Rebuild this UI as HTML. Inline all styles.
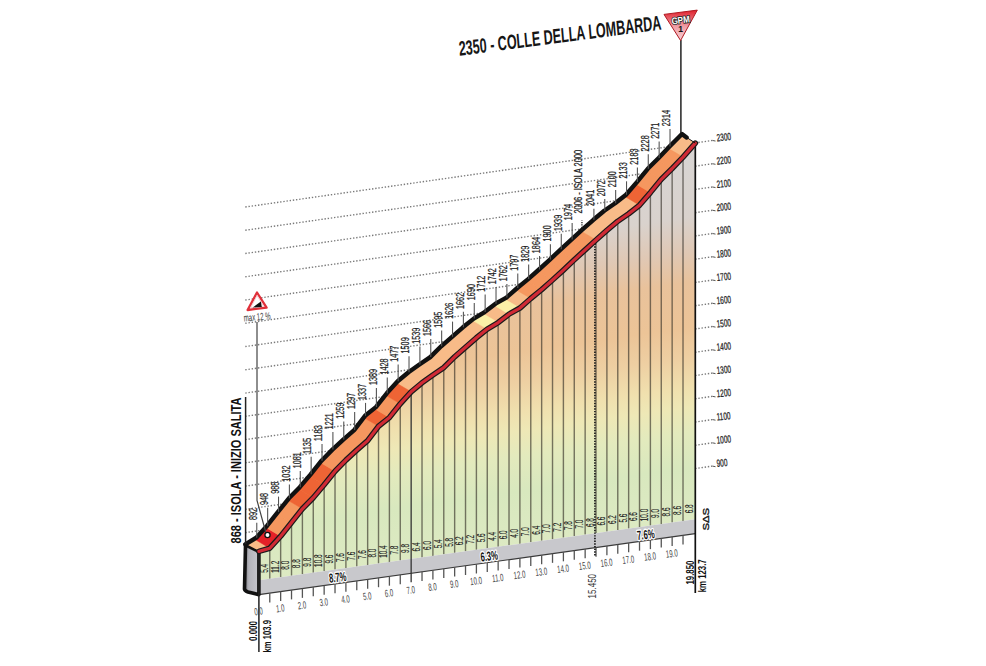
<!DOCTYPE html>
<html><head><meta charset="utf-8"><title>Colle della Lombarda</title>
<style>html,body{margin:0;padding:0;background:#fff;overflow:hidden;}svg{display:block;}</style>
</head><body>
<svg width="986" height="666" viewBox="0 0 986 666">
<defs>
<linearGradient id="fillg" gradientUnits="userSpaceOnUse" x1="0" y1="224" x2="0" y2="674" gradientTransform="skewY(-7.97)">
<stop offset="0" stop-color="#D8D6D5"/>
<stop offset="0.2" stop-color="#D9D2CD"/>
<stop offset="0.278" stop-color="#E0C8B4"/>
<stop offset="0.344" stop-color="#E9C29B"/>
<stop offset="0.444" stop-color="#ECC497"/>
<stop offset="0.511" stop-color="#EECFA2"/>
<stop offset="0.578" stop-color="#F0E0AE"/>
<stop offset="0.622" stop-color="#EEE8B6"/>
<stop offset="0.678" stop-color="#E3EABD"/>
<stop offset="0.756" stop-color="#D8E8BE"/>
<stop offset="0.88" stop-color="#DDEAC3"/>
<stop offset="1" stop-color="#E6EFCD"/>
</linearGradient>
<linearGradient id="sideg" x1="0" y1="0" x2="1" y2="0">
<stop offset="0" stop-color="#77777d"/>
<stop offset="0.3" stop-color="#B3B3BA"/>
<stop offset="1" stop-color="#C6C6CC"/>
</linearGradient>
<linearGradient id="gpmg" x1="0" y1="0" x2="0" y2="1">
<stop offset="0" stop-color="#E0202C"/>
<stop offset="0.55" stop-color="#F0A0A8"/>
<stop offset="1" stop-color="#F7D0D4"/>
</linearGradient>
</defs>
<rect width="986" height="666" fill="#fff"/>
<g stroke="#7a7a7a" stroke-width="1.4" stroke-dasharray="1.4 1.8" fill="none"><line x1="245.3" y1="532.63" x2="712.5" y2="466.1"/><line x1="245.3" y1="509.37" x2="712.5" y2="442.84"/><line x1="245.3" y1="486.11" x2="712.5" y2="419.58"/><line x1="245.3" y1="462.85" x2="712.5" y2="396.32"/><line x1="245.3" y1="439.59" x2="712.5" y2="373.06"/><line x1="245.3" y1="416.33" x2="712.5" y2="349.8"/><line x1="245.3" y1="393.07" x2="712.5" y2="326.54"/><line x1="245.3" y1="369.81" x2="712.5" y2="303.28"/><line x1="245.3" y1="346.55" x2="712.5" y2="280.02"/><line x1="245.3" y1="323.29" x2="712.5" y2="256.76"/><line x1="245.3" y1="300.03" x2="712.5" y2="233.5"/><line x1="245.3" y1="276.77" x2="712.5" y2="210.24"/><line x1="245.3" y1="253.51" x2="712.5" y2="186.98"/><line x1="245.3" y1="230.25" x2="712.5" y2="163.72"/><line x1="245.3" y1="206.99" x2="712.5" y2="140.46"/></g>
<g stroke="#555" stroke-width="1" fill="none"><path d="M712.5,466.1 l3,0.6" /><path d="M712.5,442.84 l3,0.6" /><path d="M712.5,419.58 l3,0.6" /><path d="M712.5,396.32 l3,0.6" /><path d="M712.5,373.06 l3,0.6" /><path d="M712.5,349.8 l3,0.6" /><path d="M712.5,326.54 l3,0.6" /><path d="M712.5,303.28 l3,0.6" /><path d="M712.5,280.02 l3,0.6" /><path d="M712.5,256.76 l3,0.6" /><path d="M712.5,233.5 l3,0.6" /><path d="M712.5,210.24 l3,0.6" /><path d="M712.5,186.98 l3,0.6" /><path d="M712.5,163.72 l3,0.6" /><path d="M712.5,140.46 l3,0.6" /></g>
<g font-family="Liberation Sans, sans-serif" font-size="10.5" fill="#222" stroke="#222" stroke-width="0.25"><text transform="translate(717,467.1) rotate(-6) scale(0.62,1)">900</text><text transform="translate(717,443.84) rotate(-6) scale(0.62,1)">1000</text><text transform="translate(717,420.58) rotate(-6) scale(0.62,1)">1100</text><text transform="translate(717,397.32) rotate(-6) scale(0.62,1)">1200</text><text transform="translate(717,374.06) rotate(-6) scale(0.62,1)">1300</text><text transform="translate(717,350.8) rotate(-6) scale(0.62,1)">1400</text><text transform="translate(717,327.54) rotate(-6) scale(0.62,1)">1500</text><text transform="translate(717,304.28) rotate(-6) scale(0.62,1)">1600</text><text transform="translate(717,281.02) rotate(-6) scale(0.62,1)">1700</text><text transform="translate(717,257.76) rotate(-6) scale(0.62,1)">1800</text><text transform="translate(717,234.5) rotate(-6) scale(0.62,1)">1900</text><text transform="translate(717,211.24) rotate(-6) scale(0.62,1)">2000</text><text transform="translate(717,187.98) rotate(-6) scale(0.62,1)">2100</text><text transform="translate(717,164.72) rotate(-6) scale(0.62,1)">2200</text><text transform="translate(717,141.46) rotate(-6) scale(0.62,1)">2300</text></g>
<polygon points="258.9,580.25 258.9,554 269.77,550.9 280.65,538.9 291.52,525.1 302.4,511.5 313.27,500.4 324.15,487.5 335.02,473.9 345.9,462.8 356.77,452.8 367.65,443.3 378.52,429 389.4,420.3 400.27,406.5 411.15,394.5 422.02,385.5 432.9,377.7 443.77,370.3 454.65,359.5 465.52,350 476.4,340.5 487.27,331.8 498.15,325.26 509.02,316.84 519.9,310.77 530.77,301.18 541.65,292.29 552.52,282.7 563.4,272.8 574.27,262.5 585.15,252.6 596.02,242.68 606.9,233 617.77,223.9 628.65,216.5 639.52,207.9 650.4,195.3 661.27,182 672.15,171.2 683.02,159.8 695.3,145.8 695.3,519.16" fill="url(#fillg)"/>
<g stroke="#2e2a22" stroke-opacity="0.62" stroke-width="1.4"><line x1="269.77" y1="578.73" x2="269.77" y2="550.9"/><line x1="280.65" y1="577.21" x2="280.65" y2="538.9"/><line x1="291.52" y1="575.69" x2="291.52" y2="525.1"/><line x1="302.4" y1="574.16" x2="302.4" y2="511.5"/><line x1="313.27" y1="572.64" x2="313.27" y2="500.4"/><line x1="324.15" y1="571.12" x2="324.15" y2="487.5"/><line x1="335.02" y1="569.6" x2="335.02" y2="473.9"/><line x1="345.9" y1="568.07" x2="345.9" y2="462.8"/><line x1="356.77" y1="566.55" x2="356.77" y2="452.8"/><line x1="367.65" y1="565.03" x2="367.65" y2="443.3"/><line x1="378.52" y1="563.51" x2="378.52" y2="429"/><line x1="389.4" y1="561.98" x2="389.4" y2="420.3"/><line x1="400.27" y1="560.46" x2="400.27" y2="406.5"/><line x1="422.02" y1="557.42" x2="422.02" y2="385.5"/><line x1="432.9" y1="555.89" x2="432.9" y2="377.7"/><line x1="443.77" y1="554.37" x2="443.77" y2="370.3"/><line x1="454.65" y1="552.85" x2="454.65" y2="359.5"/><line x1="465.52" y1="551.33" x2="465.52" y2="350"/><line x1="476.4" y1="549.8" x2="476.4" y2="340.5"/><line x1="487.27" y1="548.28" x2="487.27" y2="331.8"/><line x1="498.15" y1="546.76" x2="498.15" y2="325.26"/><line x1="509.02" y1="545.24" x2="509.02" y2="316.84"/><line x1="519.9" y1="543.71" x2="519.9" y2="310.77"/><line x1="530.77" y1="542.19" x2="530.77" y2="301.18"/><line x1="541.65" y1="540.67" x2="541.65" y2="292.29"/><line x1="552.52" y1="539.15" x2="552.52" y2="282.7"/><line x1="563.4" y1="537.62" x2="563.4" y2="272.8"/><line x1="574.27" y1="536.1" x2="574.27" y2="262.5"/><line x1="585.15" y1="534.58" x2="585.15" y2="252.6"/><line x1="596.02" y1="533.06" x2="596.02" y2="242.68"/><line x1="606.9" y1="531.53" x2="606.9" y2="233"/><line x1="617.77" y1="530.01" x2="617.77" y2="223.9"/><line x1="628.65" y1="528.49" x2="628.65" y2="216.5"/><line x1="639.52" y1="526.97" x2="639.52" y2="207.9"/><line x1="650.4" y1="525.44" x2="650.4" y2="195.3"/><line x1="661.27" y1="523.92" x2="661.27" y2="182"/><line x1="672.15" y1="522.4" x2="672.15" y2="171.2"/><line x1="683.02" y1="520.88" x2="683.02" y2="159.8"/></g>
<polygon points="258.9,580.25 695.3,519.16 695.3,533.56 258.9,594.65" fill="#C8C8CC"/>
<line x1="258.9" y1="594.65" x2="695.3" y2="533.56" stroke="#3a3a3a" stroke-width="1.2"/>
<g stroke="#555" stroke-width="1.3"><line x1="269.77" y1="593.13" x2="269.77" y2="602.43"/><line x1="280.65" y1="591.61" x2="280.65" y2="600.91"/><line x1="291.52" y1="590.09" x2="291.52" y2="599.39"/><line x1="302.4" y1="588.56" x2="302.4" y2="597.86"/><line x1="313.27" y1="587.04" x2="313.27" y2="596.34"/><line x1="324.15" y1="585.52" x2="324.15" y2="594.82"/><line x1="335.02" y1="584" x2="335.02" y2="593.3"/><line x1="345.9" y1="582.47" x2="345.9" y2="591.77"/><line x1="356.77" y1="580.95" x2="356.77" y2="590.25"/><line x1="367.65" y1="579.43" x2="367.65" y2="588.73"/><line x1="378.52" y1="577.91" x2="378.52" y2="587.21"/><line x1="389.4" y1="576.38" x2="389.4" y2="585.68"/><line x1="400.27" y1="574.86" x2="400.27" y2="584.16"/><line x1="422.02" y1="571.82" x2="422.02" y2="581.12"/><line x1="432.9" y1="570.29" x2="432.9" y2="579.59"/><line x1="443.77" y1="568.77" x2="443.77" y2="578.07"/><line x1="454.65" y1="567.25" x2="454.65" y2="576.55"/><line x1="465.52" y1="565.73" x2="465.52" y2="575.03"/><line x1="476.4" y1="564.2" x2="476.4" y2="573.5"/><line x1="487.27" y1="562.68" x2="487.27" y2="571.98"/><line x1="498.15" y1="561.16" x2="498.15" y2="570.46"/><line x1="509.02" y1="559.64" x2="509.02" y2="568.94"/><line x1="519.9" y1="558.11" x2="519.9" y2="567.41"/><line x1="530.77" y1="556.59" x2="530.77" y2="565.89"/><line x1="541.65" y1="555.07" x2="541.65" y2="564.37"/><line x1="552.52" y1="553.55" x2="552.52" y2="562.85"/><line x1="563.4" y1="552.02" x2="563.4" y2="561.32"/><line x1="574.27" y1="550.5" x2="574.27" y2="559.8"/><line x1="585.15" y1="548.98" x2="585.15" y2="558.28"/><line x1="596.02" y1="547.46" x2="596.02" y2="556.76"/><line x1="606.9" y1="545.93" x2="606.9" y2="555.23"/><line x1="617.77" y1="544.41" x2="617.77" y2="553.71"/><line x1="628.65" y1="542.89" x2="628.65" y2="552.19"/><line x1="639.52" y1="541.37" x2="639.52" y2="550.67"/><line x1="650.4" y1="539.84" x2="650.4" y2="549.14"/><line x1="661.27" y1="538.32" x2="661.27" y2="547.62"/><line x1="672.15" y1="536.8" x2="672.15" y2="546.1"/><line x1="683.02" y1="535.28" x2="683.02" y2="544.58"/></g>
<line x1="411.15" y1="394.5" x2="411.15" y2="582.34" stroke="#333" stroke-width="1.3"/>
<line x1="594.94" y1="243.57" x2="594.94" y2="556.61" stroke="#1a1a1a" stroke-width="1.7" stroke-dasharray="1.4 1.3"/>
<path d="M258.9,551.5 L245.5,545 L244.5,589 Q245,591 248,592 L258.9,594.65 Z" fill="url(#sideg)" stroke="#111" stroke-width="3.6" stroke-linejoin="round"/>
<line x1="258.9" y1="551" x2="258.9" y2="652" stroke="#222" stroke-width="1.5"/>
<line x1="695.3" y1="143" x2="695.3" y2="593" stroke="#111" stroke-width="1.7"/>
<clipPath id="roadclip"><polygon points="258.9,551.4 269.77,548.2 280.65,536.2 291.52,522.4 302.4,508.8 313.27,497.7 324.15,484.8 335.02,471.2 345.9,460.1 356.77,450.1 367.65,440.6 378.52,426.3 389.4,417.6 400.27,403.8 411.15,391.8 422.02,382.8 432.9,375 443.77,367.6 454.65,356.8 465.52,347.3 476.4,337.8 487.27,329.1 498.15,322.56 509.02,314.14 519.9,308.07 530.77,298.48 541.65,289.59 552.52,280 563.4,270.1 574.27,259.8 585.15,249.9 596.02,239.98 606.9,230.3 617.77,221.2 628.65,213.8 639.52,205.2 650.4,192.6 661.27,179.3 672.15,168.5 683.02,157.1 695.3,143.1 686.6,137.4 682,134 669.52,146.6 658.65,158 647.77,168.8 636.9,182.1 626.02,194.7 615.15,203.3 604.27,210.7 593.4,219.8 582.52,229.48 571.65,239.4 560.77,249.3 549.9,259.6 539.02,269.5 528.15,279.09 517.27,287.98 506.4,297.57 495.52,303.64 484.65,312.06 473.77,318.6 462.9,327.3 452.02,336.8 441.15,346.3 430.27,357.1 419.4,364.5 408.52,372.3 397.65,381.3 386.77,393.3 375.9,407.1 365.02,415.8 354.15,430.1 343.27,439.6 332.4,449.6 321.52,460.7 310.65,474.3 299.77,487.2 288.9,498.3 278.02,511.9 267.15,525.7 256.27,537.7 245.3,544.3"/></clipPath>
<g clip-path="url(#roadclip)"><polygon points="258.9,551.4 269.77,548.2 280.65,536.2 291.52,522.4 302.4,508.8 313.27,497.7 324.15,484.8 335.02,471.2 345.9,460.1 356.77,450.1 367.65,440.6 378.52,426.3 389.4,417.6 400.27,403.8 411.15,391.8 422.02,382.8 432.9,375 443.77,367.6 454.65,356.8 465.52,347.3 476.4,337.8 487.27,329.1 498.15,322.56 509.02,314.14 519.9,308.07 530.77,298.48 541.65,289.59 552.52,280 563.4,270.1 574.27,259.8 585.15,249.9 596.02,239.98 606.9,230.3 617.77,221.2 628.65,213.8 639.52,205.2 650.4,192.6 661.27,179.3 672.15,168.5 683.02,157.1 695.3,143.1 686.6,137.4 682,134 669.52,146.6 658.65,158 647.77,168.8 636.9,182.1 626.02,194.7 615.15,203.3 604.27,210.7 593.4,219.8 582.52,229.48 571.65,239.4 560.77,249.3 549.9,259.6 539.02,269.5 528.15,279.09 517.27,287.98 506.4,297.57 495.52,303.64 484.65,312.06 473.77,318.6 462.9,327.3 452.02,336.8 441.15,346.3 430.27,357.1 419.4,364.5 408.52,372.3 397.65,381.3 386.77,393.3 375.9,407.1 365.02,415.8 354.15,430.1 343.27,439.6 332.4,449.6 321.52,460.7 310.65,474.3 299.77,487.2 288.9,498.3 278.02,511.9 267.15,525.7 256.27,537.7 245.3,544.3" fill="#F8BB88"/><polygon points="269.77,548.2 280.65,536.2 250.95,518.6 240.07,530.6" fill="#E42128" stroke="#E42128" stroke-width="0.5"/><polygon points="280.65,536.2 291.52,522.4 261.82,504.8 250.95,518.6" fill="#F5975F" stroke="#F5975F" stroke-width="0.5"/><polygon points="291.52,522.4 302.4,508.8 272.7,491.2 261.82,504.8" fill="#F5975F" stroke="#F5975F" stroke-width="0.5"/><polygon points="302.4,508.8 313.27,497.7 283.57,480.1 272.7,491.2" fill="#EE6435" stroke="#EE6435" stroke-width="0.5"/><polygon points="313.27,497.7 324.15,484.8 294.45,467.2 283.57,480.1" fill="#EE6435" stroke="#EE6435" stroke-width="0.5"/><polygon points="324.15,484.8 335.02,471.2 305.32,453.6 294.45,467.2" fill="#EE6435" stroke="#EE6435" stroke-width="0.5"/><polygon points="335.02,471.2 345.9,460.1 316.2,442.5 305.32,453.6" fill="#F5975F" stroke="#F5975F" stroke-width="0.5"/><polygon points="345.9,460.1 356.77,450.1 327.07,432.5 316.2,442.5" fill="#F5975F" stroke="#F5975F" stroke-width="0.5"/><polygon points="356.77,450.1 367.65,440.6 337.95,423 327.07,432.5" fill="#F5975F" stroke="#F5975F" stroke-width="0.5"/><polygon points="367.65,440.6 378.52,426.3 348.82,408.7 337.95,423" fill="#F5975F" stroke="#F5975F" stroke-width="0.5"/><polygon points="378.52,426.3 389.4,417.6 359.7,400 348.82,408.7" fill="#EE6435" stroke="#EE6435" stroke-width="0.5"/><polygon points="389.4,417.6 400.27,403.8 370.57,386.2 359.7,400" fill="#F5975F" stroke="#F5975F" stroke-width="0.5"/><polygon points="400.27,403.8 411.15,391.8 381.45,374.2 370.57,386.2" fill="#EE6435" stroke="#EE6435" stroke-width="0.5"/><polygon points="487.27,329.1 498.15,322.56 468.45,304.96 457.57,311.5" fill="#FBF0A8" stroke="#FBF0A8" stroke-width="0.5"/><polygon points="509.02,314.14 519.9,308.07 490.2,290.47 479.32,296.54" fill="#FBF0A8" stroke="#FBF0A8" stroke-width="0.5"/><polygon points="530.77,298.48 541.65,289.59 511.95,271.99 501.07,280.88" fill="#F5975F" stroke="#F5975F" stroke-width="0.5"/><polygon points="541.65,289.59 552.52,280 522.82,262.4 511.95,271.99" fill="#F5975F" stroke="#F5975F" stroke-width="0.5"/><polygon points="552.52,280 563.4,270.1 533.7,252.5 522.82,262.4" fill="#F5975F" stroke="#F5975F" stroke-width="0.5"/><polygon points="563.4,270.1 574.27,259.8 544.57,242.2 533.7,252.5" fill="#F5975F" stroke="#F5975F" stroke-width="0.5"/><polygon points="574.27,259.8 585.15,249.9 555.45,232.3 544.57,242.2" fill="#F5975F" stroke="#F5975F" stroke-width="0.5"/><polygon points="585.15,249.9 596.02,239.98 566.32,222.38 555.45,232.3" fill="#F5975F" stroke="#F5975F" stroke-width="0.5"/><polygon points="639.52,205.2 650.4,192.6 620.7,175 609.82,187.6" fill="#EE6435" stroke="#EE6435" stroke-width="0.5"/><polygon points="650.4,192.6 661.27,179.3 631.57,161.7 620.7,175" fill="#F5975F" stroke="#F5975F" stroke-width="0.5"/><polygon points="661.27,179.3 672.15,168.5 642.45,150.9 631.57,161.7" fill="#F5975F" stroke="#F5975F" stroke-width="0.5"/><polygon points="672.15,168.5 683.02,157.1 653.32,139.5 642.45,150.9" fill="#F5975F" stroke="#F5975F" stroke-width="0.5"/></g>
<polyline points="245.3,544.3 258.9,551.4" stroke="#111" stroke-width="1.2" fill="none"/>
<polyline points="245.3,544.3 256.27,537.7 267.15,525.7 278.02,511.9 288.9,498.3 299.77,487.2 310.65,474.3 321.52,460.7 332.4,449.6 343.27,439.6 354.15,430.1 365.02,415.8 375.9,407.1 386.77,393.3 397.65,381.3 408.52,372.3 419.4,364.5 430.27,357.1 441.15,346.3 452.02,336.8 462.9,327.3 473.77,318.6 484.65,312.06 495.52,303.64 506.4,297.57 517.27,287.98 528.15,279.09 539.02,269.5 549.9,259.6 560.77,249.3 571.65,239.4 582.52,229.48 593.4,219.8 604.27,210.7 615.15,203.3 626.02,194.7 636.9,182.1 647.77,168.8 658.65,158 669.52,146.6 682,134 686.6,137.4" fill="none" stroke="#111" stroke-width="4.4" stroke-linejoin="round" stroke-linecap="round"/>
<polyline points="258.9,551.4 269.77,548.2 280.65,536.2 291.52,522.4 302.4,508.8 313.27,497.7 324.15,484.8 335.02,471.2 345.9,460.1 356.77,450.1 367.65,440.6 378.52,426.3 389.4,417.6 400.27,403.8 411.15,391.8 422.02,382.8 432.9,375 443.77,367.6 454.65,356.8 465.52,347.3 476.4,337.8 487.27,329.1 498.15,322.56 509.02,314.14 519.9,308.07 530.77,298.48 541.65,289.59 552.52,280 563.4,270.1 574.27,259.8 585.15,249.9 596.02,239.98 606.9,230.3 617.77,221.2 628.65,213.8 639.52,205.2 650.4,192.6 661.27,179.3 672.15,168.5 683.02,157.1 695.3,143.1" fill="none" stroke="#1a1a1a" stroke-width="5.6" stroke-linejoin="round" stroke-linecap="round"/>
<polyline points="258.9,551.4 269.77,548.2 280.65,536.2 291.52,522.4 302.4,508.8 313.27,497.7 324.15,484.8 335.02,471.2 345.9,460.1 356.77,450.1 367.65,440.6 378.52,426.3 389.4,417.6 400.27,403.8 411.15,391.8 422.02,382.8 432.9,375 443.77,367.6 454.65,356.8 465.52,347.3 476.4,337.8 487.27,329.1 498.15,322.56 509.02,314.14 519.9,308.07 530.77,298.48 541.65,289.59 552.52,280 563.4,270.1 574.27,259.8 585.15,249.9 596.02,239.98 606.9,230.3 617.77,221.2 628.65,213.8 639.52,205.2 650.4,192.6 661.27,179.3 672.15,168.5 683.02,157.1 695.3,143.1" fill="none" stroke="#D02A35" stroke-width="3.2" stroke-linejoin="round" stroke-linecap="round"/>
<polyline points="686.6,137.4 695.3,143.1" stroke="#111" stroke-width="1.0" fill="none"/>
<g stroke="#555" stroke-width="1.1"><line x1="256.77" y1="537.7" x2="256.77" y2="522.8"/><line x1="267.65" y1="525.7" x2="267.65" y2="507.8"/><line x1="278.52" y1="511.9" x2="278.52" y2="496.6"/><line x1="289.4" y1="498.3" x2="289.4" y2="484.5"/><line x1="300.27" y1="487.2" x2="300.27" y2="471.1"/><line x1="311.15" y1="474.3" x2="311.15" y2="456.8"/><line x1="322.02" y1="460.7" x2="322.02" y2="444.1"/><line x1="332.9" y1="449.6" x2="332.9" y2="432.1"/><line x1="343.77" y1="439.6" x2="343.77" y2="421.6"/><line x1="354.65" y1="430.1" x2="354.65" y2="411.9"/><line x1="365.52" y1="415.8" x2="365.52" y2="402.9"/><line x1="376.4" y1="407.1" x2="376.4" y2="387.9"/><line x1="387.27" y1="393.3" x2="387.27" y2="377.4"/><line x1="398.15" y1="381.3" x2="398.15" y2="364.6"/><line x1="409.02" y1="372.3" x2="409.02" y2="356.3"/><line x1="419.9" y1="364.5" x2="419.9" y2="346.6"/><line x1="430.77" y1="357.1" x2="430.77" y2="338.9"/><line x1="441.65" y1="346.3" x2="441.65" y2="330.6"/><line x1="452.52" y1="336.8" x2="452.52" y2="321.6"/><line x1="463.4" y1="327.3" x2="463.4" y2="311.8"/><line x1="474.27" y1="318.6" x2="474.27" y2="303"/><line x1="485.15" y1="312.06" x2="485.15" y2="294.6"/><line x1="496.02" y1="303.64" x2="496.02" y2="287.1"/><line x1="506.9" y1="297.57" x2="506.9" y2="284.1"/><line x1="517.77" y1="287.98" x2="517.77" y2="273.6"/><line x1="528.65" y1="279.09" x2="528.65" y2="264.6"/><line x1="539.52" y1="269.5" x2="539.52" y2="256"/><line x1="550.4" y1="259.6" x2="550.4" y2="244.3"/><line x1="561.27" y1="249.3" x2="561.27" y2="233.8"/><line x1="572.15" y1="239.4" x2="572.15" y2="223"/><line x1="593.9" y1="219.8" x2="593.9" y2="208.8"/><line x1="604.77" y1="210.7" x2="604.77" y2="199.1"/><line x1="615.65" y1="203.3" x2="615.65" y2="190.1"/><line x1="626.52" y1="194.7" x2="626.52" y2="181.3"/><line x1="637.4" y1="182.1" x2="637.4" y2="167.5"/><line x1="648.27" y1="168.8" x2="648.27" y2="154.3"/><line x1="659.15" y1="158" x2="659.15" y2="141.6"/><line x1="670.02" y1="146.6" x2="670.02" y2="129"/></g>
<line x1="581.94" y1="230.37" x2="581.94" y2="220.37" stroke="#222" stroke-width="1.3" stroke-dasharray="1.2 1.2"/>
<g font-family="Liberation Sans, sans-serif" font-size="11.5" fill="#222" stroke="#222" stroke-width="0.25"><text transform="translate(257.07,520) rotate(-90)" textLength="12.1" lengthAdjust="spacingAndGlyphs">892</text><text transform="translate(267.95,505) rotate(-90)" textLength="12.1" lengthAdjust="spacingAndGlyphs">948</text><text transform="translate(278.82,493.8) rotate(-90)" textLength="12.1" lengthAdjust="spacingAndGlyphs">988</text><text transform="translate(289.7,481.7) rotate(-90)" textLength="16.2" lengthAdjust="spacingAndGlyphs">1032</text><text transform="translate(300.57,468.3) rotate(-90)" textLength="16.2" lengthAdjust="spacingAndGlyphs">1081</text><text transform="translate(311.45,454) rotate(-90)" textLength="16.2" lengthAdjust="spacingAndGlyphs">1135</text><text transform="translate(322.32,441.3) rotate(-90)" textLength="16.2" lengthAdjust="spacingAndGlyphs">1183</text><text transform="translate(333.2,429.3) rotate(-90)" textLength="16.2" lengthAdjust="spacingAndGlyphs">1221</text><text transform="translate(344.07,418.8) rotate(-90)" textLength="16.2" lengthAdjust="spacingAndGlyphs">1259</text><text transform="translate(354.95,409.1) rotate(-90)" textLength="16.2" lengthAdjust="spacingAndGlyphs">1297</text><text transform="translate(365.82,400.1) rotate(-90)" textLength="16.2" lengthAdjust="spacingAndGlyphs">1337</text><text transform="translate(376.7,385.1) rotate(-90)" textLength="16.2" lengthAdjust="spacingAndGlyphs">1389</text><text transform="translate(387.57,374.6) rotate(-90)" textLength="16.2" lengthAdjust="spacingAndGlyphs">1428</text><text transform="translate(398.45,361.8) rotate(-90)" textLength="16.2" lengthAdjust="spacingAndGlyphs">1477</text><text transform="translate(409.32,353.5) rotate(-90)" textLength="16.2" lengthAdjust="spacingAndGlyphs">1509</text><text transform="translate(420.2,343.8) rotate(-90)" textLength="16.2" lengthAdjust="spacingAndGlyphs">1539</text><text transform="translate(431.07,336.1) rotate(-90)" textLength="16.2" lengthAdjust="spacingAndGlyphs">1566</text><text transform="translate(441.95,327.8) rotate(-90)" textLength="16.2" lengthAdjust="spacingAndGlyphs">1595</text><text transform="translate(452.82,318.8) rotate(-90)" textLength="16.2" lengthAdjust="spacingAndGlyphs">1626</text><text transform="translate(463.7,309) rotate(-90)" textLength="16.2" lengthAdjust="spacingAndGlyphs">1662</text><text transform="translate(474.57,300.2) rotate(-90)" textLength="16.2" lengthAdjust="spacingAndGlyphs">1690</text><text transform="translate(485.45,291.8) rotate(-90)" textLength="16.2" lengthAdjust="spacingAndGlyphs">1712</text><text transform="translate(496.32,284.3) rotate(-90)" textLength="16.2" lengthAdjust="spacingAndGlyphs">1742</text><text transform="translate(507.2,281.3) rotate(-90)" textLength="16.2" lengthAdjust="spacingAndGlyphs">1762</text><text transform="translate(518.07,270.8) rotate(-90)" textLength="16.2" lengthAdjust="spacingAndGlyphs">1797</text><text transform="translate(528.95,261.8) rotate(-90)" textLength="16.2" lengthAdjust="spacingAndGlyphs">1829</text><text transform="translate(539.82,253.2) rotate(-90)" textLength="16.2" lengthAdjust="spacingAndGlyphs">1864</text><text transform="translate(550.7,241.5) rotate(-90)" textLength="16.2" lengthAdjust="spacingAndGlyphs">1900</text><text transform="translate(561.57,231) rotate(-90)" textLength="16.2" lengthAdjust="spacingAndGlyphs">1939</text><text transform="translate(572.45,220.2) rotate(-90)" textLength="16.2" lengthAdjust="spacingAndGlyphs">1974</text><text transform="translate(594.2,206) rotate(-90)" textLength="16.2" lengthAdjust="spacingAndGlyphs">2041</text><text transform="translate(605.07,196.3) rotate(-90)" textLength="16.2" lengthAdjust="spacingAndGlyphs">2072</text><text transform="translate(615.95,187.3) rotate(-90)" textLength="16.2" lengthAdjust="spacingAndGlyphs">2100</text><text transform="translate(626.82,178.5) rotate(-90)" textLength="16.2" lengthAdjust="spacingAndGlyphs">2133</text><text transform="translate(637.7,164.7) rotate(-90)" textLength="16.2" lengthAdjust="spacingAndGlyphs">2183</text><text transform="translate(648.57,151.5) rotate(-90)" textLength="16.2" lengthAdjust="spacingAndGlyphs">2228</text><text transform="translate(659.45,138.8) rotate(-90)" textLength="16.2" lengthAdjust="spacingAndGlyphs">2271</text><text transform="translate(670.32,126.2) rotate(-90)" textLength="16.2" lengthAdjust="spacingAndGlyphs">2314</text><text transform="translate(582.24,213.6) rotate(-90)" textLength="63.8" lengthAdjust="spacingAndGlyphs">2006 - ISOLA 2000</text></g>
<g font-family="Liberation Sans, sans-serif" font-size="10" fill="#222" stroke="#222" stroke-width="0.15" text-anchor="middle"><text transform="translate(267.74,568.29) rotate(-90) scale(0.64,1)">5.4</text><text transform="translate(278.61,566.77) rotate(-90) scale(0.64,1)">11.2</text><text transform="translate(289.49,565.25) rotate(-90) scale(0.64,1)">8.0</text><text transform="translate(300.36,563.73) rotate(-90) scale(0.64,1)">8.8</text><text transform="translate(311.24,562.2) rotate(-90) scale(0.64,1)">9.8</text><text transform="translate(322.11,560.68) rotate(-90) scale(0.64,1)">10.8</text><text transform="translate(332.99,559.16) rotate(-90) scale(0.64,1)">9.6</text><text transform="translate(343.86,557.64) rotate(-90) scale(0.64,1)">7.6</text><text transform="translate(354.74,556.11) rotate(-90) scale(0.64,1)">7.6</text><text transform="translate(365.61,554.59) rotate(-90) scale(0.64,1)">7.6</text><text transform="translate(376.49,553.07) rotate(-90) scale(0.64,1)">8.0</text><text transform="translate(387.36,551.55) rotate(-90) scale(0.64,1)">10.4</text><text transform="translate(398.24,550.02) rotate(-90) scale(0.64,1)">7.8</text><text transform="translate(409.11,548.5) rotate(-90) scale(0.64,1)">9.8</text><text transform="translate(419.99,546.98) rotate(-90) scale(0.64,1)">6.4</text><text transform="translate(430.86,545.46) rotate(-90) scale(0.64,1)">6.0</text><text transform="translate(441.74,543.93) rotate(-90) scale(0.64,1)">5.4</text><text transform="translate(452.61,542.41) rotate(-90) scale(0.64,1)">5.8</text><text transform="translate(463.49,540.89) rotate(-90) scale(0.64,1)">6.2</text><text transform="translate(474.36,539.37) rotate(-90) scale(0.64,1)">7.2</text><text transform="translate(485.24,537.84) rotate(-90) scale(0.64,1)">5.6</text><text transform="translate(496.11,536.32) rotate(-90) scale(0.64,1)">4.4</text><text transform="translate(506.99,534.8) rotate(-90) scale(0.64,1)">6.0</text><text transform="translate(517.86,533.28) rotate(-90) scale(0.64,1)">4.0</text><text transform="translate(528.74,531.75) rotate(-90) scale(0.64,1)">7.0</text><text transform="translate(539.61,530.23) rotate(-90) scale(0.64,1)">6.4</text><text transform="translate(550.49,528.71) rotate(-90) scale(0.64,1)">7.0</text><text transform="translate(561.36,527.19) rotate(-90) scale(0.64,1)">7.2</text><text transform="translate(572.24,525.66) rotate(-90) scale(0.64,1)">7.8</text><text transform="translate(583.11,524.14) rotate(-90) scale(0.64,1)">7.0</text><text transform="translate(593.99,522.62) rotate(-90) scale(0.64,1)">6.8</text><text transform="translate(604.86,521.1) rotate(-90) scale(0.64,1)">6.6</text><text transform="translate(615.74,519.57) rotate(-90) scale(0.64,1)">6.2</text><text transform="translate(626.61,518.05) rotate(-90) scale(0.64,1)">5.6</text><text transform="translate(637.49,516.53) rotate(-90) scale(0.64,1)">6.6</text><text transform="translate(648.36,515.01) rotate(-90) scale(0.64,1)">10.0</text><text transform="translate(659.24,513.48) rotate(-90) scale(0.64,1)">9.0</text><text transform="translate(670.11,511.96) rotate(-90) scale(0.64,1)">8.6</text><text transform="translate(680.99,510.44) rotate(-90) scale(0.64,1)">8.6</text><text transform="translate(692.56,508.82) rotate(-90) scale(0.64,1)">6.8</text></g>
<g font-family="Liberation Sans, sans-serif" font-size="10.5" fill="#444"><text transform="translate(258.9,614.95) rotate(-7) scale(0.58,1)" text-anchor="middle">0.0</text><text transform="translate(280.65,611.91) rotate(-7) scale(0.58,1)" text-anchor="middle">1.0</text><text transform="translate(302.4,608.86) rotate(-7) scale(0.58,1)" text-anchor="middle">2.0</text><text transform="translate(324.15,605.82) rotate(-7) scale(0.58,1)" text-anchor="middle">3.0</text><text transform="translate(345.9,602.77) rotate(-7) scale(0.58,1)" text-anchor="middle">4.0</text><text transform="translate(367.65,599.73) rotate(-7) scale(0.58,1)" text-anchor="middle">5.0</text><text transform="translate(389.4,596.68) rotate(-7) scale(0.58,1)" text-anchor="middle">6.0</text><text transform="translate(411.15,593.64) rotate(-7) scale(0.58,1)" text-anchor="middle">7.0</text><text transform="translate(432.9,590.59) rotate(-7) scale(0.58,1)" text-anchor="middle">8.0</text><text transform="translate(454.65,587.55) rotate(-7) scale(0.58,1)" text-anchor="middle">9.0</text><text transform="translate(476.4,584.5) rotate(-7) scale(0.58,1)" text-anchor="middle">10.0</text><text transform="translate(498.15,581.46) rotate(-7) scale(0.58,1)" text-anchor="middle">11.0</text><text transform="translate(519.9,578.41) rotate(-7) scale(0.58,1)" text-anchor="middle">12.0</text><text transform="translate(541.65,575.37) rotate(-7) scale(0.58,1)" text-anchor="middle">13.0</text><text transform="translate(563.4,572.32) rotate(-7) scale(0.58,1)" text-anchor="middle">14.0</text><text transform="translate(585.15,569.28) rotate(-7) scale(0.58,1)" text-anchor="middle">15.0</text><text transform="translate(606.9,566.23) rotate(-7) scale(0.58,1)" text-anchor="middle">16.0</text><text transform="translate(628.65,563.19) rotate(-7) scale(0.58,1)" text-anchor="middle">17.0</text><text transform="translate(650.4,560.14) rotate(-7) scale(0.58,1)" text-anchor="middle">18.0</text><text transform="translate(672.15,557.1) rotate(-7) scale(0.58,1)" text-anchor="middle">19.0</text></g>
<text transform="translate(338.2,581.8) rotate(-6)" textLength="17.5" lengthAdjust="spacingAndGlyphs" text-anchor="middle" font-family="Liberation Sans, sans-serif" font-weight="bold" font-size="13" fill="#111" stroke="#fff" stroke-width="2.8" paint-order="stroke" stroke-linejoin="round">8.7%</text>
<text transform="translate(489.7,560.5) rotate(-6)" textLength="17.5" lengthAdjust="spacingAndGlyphs" text-anchor="middle" font-family="Liberation Sans, sans-serif" font-weight="bold" font-size="13" fill="#111" stroke="#fff" stroke-width="2.8" paint-order="stroke" stroke-linejoin="round">6.3%</text>
<text transform="translate(646.3,539) rotate(-6)" textLength="17.5" lengthAdjust="spacingAndGlyphs" text-anchor="middle" font-family="Liberation Sans, sans-serif" font-weight="bold" font-size="13" fill="#111" stroke="#fff" stroke-width="2.8" paint-order="stroke" stroke-linejoin="round">7.6%</text>
<text transform="translate(256.8,641) rotate(-90)" textLength="20" lengthAdjust="spacingAndGlyphs" font-family="Liberation Sans, sans-serif" font-size="10.4" font-weight="bold" fill="#111">0.000</text>
<text transform="translate(270.6,652.5) rotate(-90)" textLength="32.5" lengthAdjust="spacingAndGlyphs" font-family="Liberation Sans, sans-serif" font-size="11" font-weight="bold" fill="#111">km 103.9</text>
<text transform="translate(693.6,584.6) rotate(-90)" textLength="24" lengthAdjust="spacingAndGlyphs" font-family="Liberation Sans, sans-serif" font-size="10.4" font-weight="bold" fill="#111">19.850</text>
<text transform="translate(706.2,592.3) rotate(-90)" textLength="33" lengthAdjust="spacingAndGlyphs" font-family="Liberation Sans, sans-serif" font-size="11" font-weight="bold" fill="#111">km 123.7</text>
<text transform="translate(596,598.4) rotate(-90)" textLength="24.4" lengthAdjust="spacingAndGlyphs" font-family="Liberation Sans, sans-serif" font-size="11.2" font-weight="normal" fill="#333">15.450</text>
<text stroke="#111" stroke-width="0.35" transform="translate(709.3,530.6) rotate(-90)" textLength="22.8" lengthAdjust="spacingAndGlyphs" font-family="Liberation Sans, sans-serif" font-size="9.6" font-weight="normal" fill="#111">SΔS</text>
<line x1="245.6" y1="397" x2="245.6" y2="544" stroke="#222" stroke-width="1.5"/>
<text transform="translate(241.3,543.5) rotate(-90)" textLength="146" lengthAdjust="spacingAndGlyphs" font-family="Liberation Sans, sans-serif" font-size="14" font-weight="bold" fill="#111">868 - ISOLA - INIZIO SALITA</text>
<polyline points="257,322 257,500.5 266,533" fill="none" stroke="#444" stroke-width="1.2"/>
<circle cx="267.5" cy="535" r="2.6" fill="#fff" stroke="#111" stroke-width="1.3"/>
<path d="M257,292.5 L247.6,310 L266.6,307.6 Z" fill="#fff" stroke="#E0303A" stroke-width="2.3" stroke-linejoin="round"/>
<path d="M257,295.6 L250.6,307.8 L263.6,306.2 Z" fill="none" stroke="#F4B8BE" stroke-width="0.7" stroke-linejoin="round"/>
<path d="M252.6,307.6 L260.9,301.6 L261.8,306.9 Z" fill="#111"/>
<text transform="translate(244,321.6) rotate(-5)" textLength="27" lengthAdjust="spacingAndGlyphs" font-family="Liberation Sans, sans-serif" font-size="10.5" fill="#333">max 12 %</text>
<line x1="680.9" y1="40" x2="680.9" y2="133" stroke="#222" stroke-width="1.5"/>
<path d="M664,14.4 L697.3,10.1 L680.6,40.5 Z" fill="url(#gpmg)" stroke="#B01820" stroke-width="1" stroke-linejoin="round"/>
<text transform="translate(681,23.3) rotate(-7) scale(0.85,1)" text-anchor="middle" font-family="Liberation Sans, sans-serif" font-weight="bold" font-size="9.5" fill="#fff" stroke="#222" stroke-width="1.6" paint-order="stroke">GPM</text>
<text transform="translate(680.6,32.2) scale(0.9,1)" text-anchor="middle" font-family="Liberation Sans, sans-serif" font-weight="bold" font-size="9.5" fill="#111">1</text>
<text transform="translate(459.4,55.8) rotate(-5) skewY(-2.4)" textLength="204" lengthAdjust="spacingAndGlyphs" font-family="Liberation Sans, sans-serif" font-weight="bold" font-size="20.5" fill="#161616">2350 - COLLE DELLA LOMBARDA</text>
</svg>
</body></html>
